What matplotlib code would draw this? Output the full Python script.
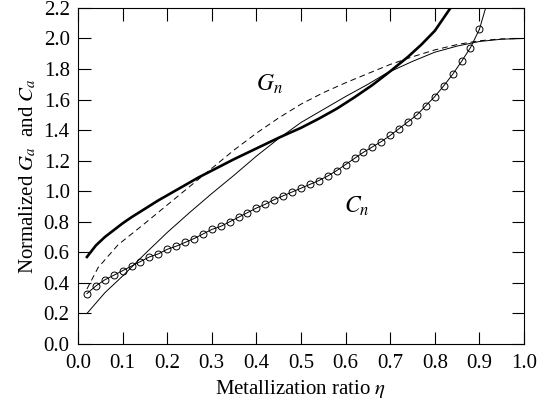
import matplotlib
matplotlib.use("Agg")
import matplotlib.pyplot as plt

plt.rcParams['font.family'] = 'serif'
plt.rcParams['font.serif'] = ['Liberation Serif', 'DejaVu Serif']
plt.rcParams['mathtext.fontset'] = 'stix'

# Thick solid curve
thick_eta = [0.02, 0.04, 0.06, 0.08, 0.10, 0.12, 0.15, 0.18, 0.21, 0.27, 0.35, 0.45, 0.50, 0.54, 0.58, 0.62, 0.66, 0.70, 0.74, 0.77, 0.80, 0.84]
thick_val = [0.57, 0.645, 0.70, 0.745, 0.79, 0.83, 0.885, 0.94, 0.99, 1.09, 1.21, 1.35, 1.415, 1.475, 1.54, 1.615, 1.695, 1.785, 1.88, 1.96, 2.05, 2.22]

# Thin solid curve
thin_eta = [0.02, 0.06, 0.10, 0.15, 0.20, 0.25, 0.30, 0.35, 0.40, 0.45, 0.50, 0.55, 0.60, 0.65, 0.69, 0.75, 0.80, 0.85, 0.90, 0.95, 1.00]
thin_val = [0.20, 0.335, 0.445, 0.59, 0.73, 0.86, 0.985, 1.105, 1.23, 1.345, 1.45, 1.535, 1.62, 1.70, 1.77, 1.85, 1.91, 1.95, 1.98, 1.995, 2.00]

# Dashed curve
dash_eta = [0.02, 0.045, 0.09, 0.15, 0.20, 0.25, 0.30, 0.35, 0.40, 0.45, 0.50, 0.55, 0.60, 0.65, 0.70, 0.75, 0.80, 0.85, 0.90, 0.95, 1.00]
dash_val = [0.36, 0.50, 0.65, 0.79, 0.91, 1.03, 1.15, 1.27, 1.38, 1.48, 1.57, 1.645, 1.71, 1.77, 1.83, 1.88, 1.925, 1.96, 1.985, 1.997, 2.00]

# Circle-marked curve (C_n)
c_eta = [0.02, 0.04, 0.06, 0.08, 0.10, 0.12, 0.14, 0.16, 0.18, 0.20,
         0.22, 0.24, 0.26, 0.28, 0.30, 0.32, 0.34, 0.36, 0.38, 0.40,
         0.42, 0.44, 0.46, 0.48, 0.50, 0.52, 0.54, 0.56, 0.58, 0.60,
         0.62, 0.64, 0.66, 0.68, 0.70, 0.72, 0.74, 0.76, 0.78, 0.80,
         0.82, 0.84, 0.86, 0.88, 0.90]
c_val = [0.33, 0.38, 0.42, 0.45, 0.48, 0.51, 0.54, 0.57, 0.59, 0.62,
         0.64, 0.665, 0.69, 0.72, 0.75, 0.77, 0.80, 0.83, 0.86, 0.89,
         0.915, 0.945, 0.97, 0.995, 1.02, 1.045, 1.07, 1.10, 1.135, 1.175,
         1.215, 1.255, 1.29, 1.325, 1.365, 1.41, 1.455, 1.50, 1.56, 1.62,
         1.69, 1.765, 1.85, 1.94, 2.06]
c_tail_eta = [0.90, 0.916]
c_tail_val = [2.06, 2.22]

x_ticks = [0.0, 0.1, 0.2, 0.3, 0.4, 0.5, 0.6, 0.7, 0.8, 0.9, 1.0]
y_ticks = [0.0, 0.2, 0.4, 0.6, 0.8, 1.0, 1.2, 1.4, 1.6, 1.8, 2.0, 2.2]

fig = plt.figure(figsize=(5.38, 4.15), dpi=100)
ax = fig.add_axes([0.145, 0.171, 0.829, 0.810])

ax.plot(thick_eta, thick_val, color='black', lw=1.9)
ax.plot(thin_eta, thin_val, color='black', lw=0.7)
ax.plot(dash_eta, dash_val, color='black', lw=0.7, dashes=(6, 4))
ax.plot(c_eta, c_val, color='black', lw=0.7, marker='o', markersize=5,
        markerfacecolor='none', markeredgewidth=0.7)
ax.plot(c_tail_eta, c_tail_val, color='black', lw=0.7)

ax.text(0.43, 1.70, r'$G_n$', fontsize=17, ha='center', va='center')
ax.text(0.626, 0.90, r'$C_n$', fontsize=17, ha='center', va='center')

ax.set_xlim(0.0, 1.0)
ax.set_ylim(0.0, 2.2)
ax.set_xticks(x_ticks)
ax.set_yticks(y_ticks)
ax.set_xticklabels([f'{v:.1f}' for v in x_ticks])
ax.set_yticklabels([f'{v:.1f}' for v in y_ticks])
ax.tick_params(direction='in', length=9, width=0.8, top=True, right=True,
               labelsize=15, pad=6)
ax.tick_params(axis='x', pad=7)
for s in ax.spines.values():
    s.set_linewidth(0.8)

ax.set_xlabel(r'Metallization ratio $\eta$', fontsize=15, labelpad=4)
ax.set_ylabel(r'Normalized $G_a$  and $C_a$', fontsize=15, labelpad=4)

fig.savefig('out.png', dpi=100)
